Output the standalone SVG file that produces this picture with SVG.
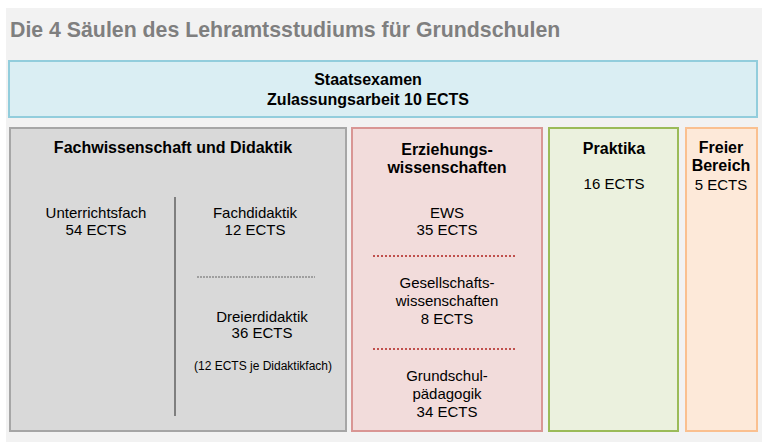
<svg xmlns="http://www.w3.org/2000/svg" width="762" height="442" viewBox="0 0 762 442">
<style>
text{font-family:"Liberation Sans",Arial,sans-serif;fill:#000;text-anchor:middle}
.b{font-weight:bold;font-size:16px}
.r{font-size:15px}
.s{font-size:12px}
.box{stroke-width:2}
</style>
<rect x="6" y="8" width="756" height="434" fill="#f2f2f2"/>
<text x="10" y="37" style="font-weight:bold;font-size:21.3px;fill:#7f7f7f;text-anchor:start">Die 4 Säulen des Lehramtsstudiums für Grundschulen</text>
<g id="staatsexamen">
<rect class="box" x="9" y="61" width="748" height="56" fill="#daeef3" stroke="#92cddc"/>
<text class="b" x="368" y="85">Staatsexamen</text>
<text class="b" x="368" y="105">Zulassungsarbeit 10 ECTS</text>
</g>
<g id="fachwissenschaft">
<rect class="box" x="10" y="128" width="336" height="303" fill="#d9d9d9" stroke="#a6a6a6"/>
<text class="b" x="173" y="153">Fachwissenschaft und Didaktik</text>
<text class="r" x="96" y="218">Unterrichtsfach</text>
<text class="r" x="96" y="235">54 ECTS</text>
<text class="r" x="255" y="218">Fachdidaktik</text>
<text class="r" x="255" y="235">12 ECTS</text>
<text class="r" x="262" y="322">Dreierdidaktik</text>
<text class="r" x="262" y="338">36 ECTS</text>
<text class="s" x="263" y="370">(12 ECTS je Didaktikfach)</text>
</g>
<g id="erziehungswissenschaften">
<rect class="box" x="352" y="128" width="190" height="303" fill="#f2dcdb" stroke="#d99694"/>
<text class="b" x="447" y="155">Erziehungs-</text>
<text class="b" x="447" y="173">wissenschaften</text>
<text class="r" x="447" y="218">EWS</text>
<text class="r" x="447" y="235">35 ECTS</text>
<text class="r" x="447" y="288">Gesellschafts-</text>
<text class="r" x="447" y="306">wissenschaften</text>
<text class="r" x="447" y="324">8 ECTS</text>
<text class="r" x="447" y="381">Grundschul-</text>
<text class="r" x="447" y="399">pädagogik</text>
<text class="r" x="447" y="417">34 ECTS</text>
</g>
<g id="praktika">
<rect class="box" x="549" y="128" width="129" height="303" fill="#ebf1de" stroke="#9bbb59"/>
<text class="b" x="614" y="154">Praktika</text>
<text class="r" x="614" y="189">16 ECTS</text>
</g>
<g id="freier-bereich">
<rect class="box" x="686" y="128" width="71" height="303" fill="#fde9d9" stroke="#fac090"/>
<text class="b" x="721" y="153">Freier</text>
<text class="b" x="721" y="171">Bereich</text>
<text class="r" x="721" y="190">5 ECTS</text>
</g>
<g id="connectors">
<line x1="175" y1="197" x2="175" y2="416" stroke="#7f7f7f" stroke-width="2"/>
<line x1="197" y1="277" x2="315" y2="277" stroke="#8c8c8c" stroke-width="1.5" stroke-dasharray="2 1"/>
<line x1="373" y1="256" x2="515" y2="256" stroke="#c0504d" stroke-width="2" stroke-dasharray="2 2"/>
<line x1="373" y1="349" x2="515" y2="349" stroke="#c0504d" stroke-width="2" stroke-dasharray="2 2"/>
</g>
</svg>
